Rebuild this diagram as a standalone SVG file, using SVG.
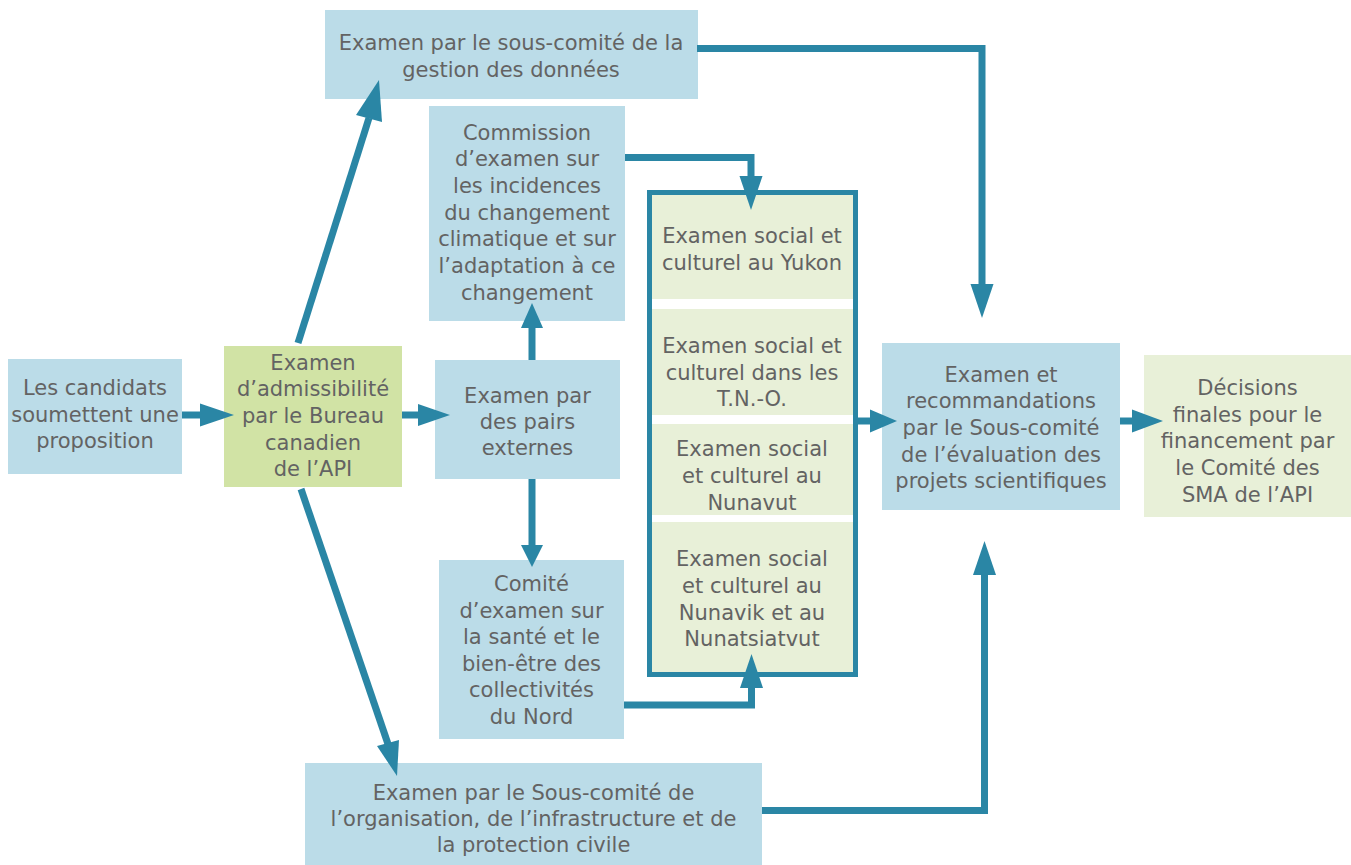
<svg xmlns="http://www.w3.org/2000/svg" width="1351" height="865" viewBox="0 0 1351 865">
<style>
.blue{fill:#BBDCE8}
.green{fill:#D1E3A5}
.pale{fill:#E8F0D8}
text{font-family:"DejaVu Sans",Verdana,sans-serif;font-size:21px;fill:#636363;text-anchor:middle}
.ln{fill:none;stroke:#2A86A5;stroke-width:7;stroke-linejoin:miter}
.hd{fill:#2A86A5}
</style>
<rect width="1351" height="865" fill="#FFFFFF"/>
<g id="candidats">
<rect class="blue" x="8" y="359" width="174" height="115"/>
<text x="95" y="395">Les candidats</text>
<text x="95" y="421.5">soumettent une</text>
<text x="95" y="448">proposition</text>
</g>
<g id="admissibilite">
<rect class="green" x="224" y="346" width="178" height="141"/>
<text x="313" y="370">Examen</text>
<text x="313" y="396">d’admissibilité</text>
<text x="313" y="423">par le Bureau</text>
<text x="313" y="450">canadien</text>
<text x="313" y="476">de l’API</text>
</g>
<g id="gestion-donnees">
<rect class="blue" x="325" y="10" width="373" height="89"/>
<text x="511" y="50">Examen par le sous-comité de la</text>
<text x="511" y="77">gestion des données</text>
</g>
<g id="commission">
<rect class="blue" x="429" y="106" width="196" height="215"/>
<text x="527" y="140">Commission</text>
<text x="527" y="166">d’examen sur</text>
<text x="527" y="193">les incidences</text>
<text x="527" y="220">du changement</text>
<text x="527" y="246">climatique et sur</text>
<text x="527" y="273">l’adaptation à ce</text>
<text x="527" y="300">changement</text>
</g>
<g id="pairs">
<rect class="blue" x="435" y="360" width="185" height="119"/>
<text x="527.5" y="403">Examen par</text>
<text x="527.5" y="429">des pairs</text>
<text x="527.5" y="455">externes</text>
</g>
<g id="comite-sante">
<rect class="blue" x="439" y="560" width="185" height="179"/>
<text x="531.5" y="591">Comité</text>
<text x="531.5" y="617.5">d’examen sur</text>
<text x="531.5" y="644">la santé et le</text>
<text x="531.5" y="670.5">bien-être des</text>
<text x="531.5" y="697">collectivités</text>
<text x="531.5" y="723.5">du Nord</text>
</g>
<g id="examens-sociaux">
<rect x="649.5" y="192.5" width="206" height="482" fill="#FFFFFF" stroke="#2A86A5" stroke-width="5"/>
<g id="yukon">
<rect class="pale" x="652" y="195" width="201" height="104"/>
<text x="752" y="243">Examen social et</text>
<text x="752" y="270">culturel au Yukon</text>
</g>
<g id="tno">
<rect class="pale" x="652" y="309" width="201" height="106"/>
<text x="752" y="353">Examen social et</text>
<text x="752" y="380">culturel dans les</text>
<text x="752" y="406">T.N.-O.</text>
</g>
<g id="nunavut">
<rect class="pale" x="652" y="424" width="201" height="91"/>
<text x="752" y="456">Examen social</text>
<text x="752" y="483">et culturel au</text>
<text x="752" y="510">Nunavut</text>
</g>
<g id="nunavik">
<rect class="pale" x="652" y="522" width="201" height="150"/>
<text x="752" y="566">Examen social</text>
<text x="752" y="593">et culturel au</text>
<text x="752" y="620">Nunavik et au</text>
<text x="752" y="646">Nunatsiatvut</text>
</g>
</g>
<g id="recommandations">
<rect class="blue" x="882" y="343" width="238" height="167"/>
<text x="1001" y="382">Examen et</text>
<text x="1001" y="408">recommandations</text>
<text x="1001" y="435">par le Sous-comité</text>
<text x="1001" y="462">de l’évaluation des</text>
<text x="1001" y="488">projets scientifiques</text>
</g>
<g id="decisions">
<rect class="pale" x="1144" y="355" width="207" height="162"/>
<text x="1247.5" y="395">Décisions</text>
<text x="1247.5" y="422">finales pour le</text>
<text x="1247.5" y="448">financement par</text>
<text x="1247.5" y="475">le Comité des</text>
<text x="1247.5" y="502">SMA de l’API</text>
</g>
<g id="organisation">
<rect class="blue" x="305" y="763" width="457" height="102"/>
<text x="533.5" y="800">Examen par le Sous-comité de</text>
<text x="533.5" y="826">l’organisation, de l’infrastructure et de</text>
<text x="533.5" y="852">la protection civile</text>
</g>
<g id="connectors">
<path class="ln" d="M182,415 H201"/>
<polygon class="hd" points="200,403.5 234,415 200,426.5"/>
<path class="ln" d="M402,415 H419"/>
<polygon class="hd" points="418,404 450,415 418,426"/>
<path class="ln" d="M532,360 V327"/>
<polygon class="hd" points="521,328 532,303 543,328"/>
<path class="ln" d="M532,479 V546"/>
<polygon class="hd" points="521,545 532,567 543,545"/>
<path class="ln" d="M625,157.5 H751 V177"/>
<polygon class="hd" points="739.5,176 751,210 762.5,176"/>
<path class="ln" d="M624,705 H751.5 V687"/>
<polygon class="hd" points="740,688 751.5,654 763,688"/>
<path class="ln" d="M298,343 L369,118"/>
<polygon class="hd" points="356,115 379,80 382,122"/>
<path class="ln" d="M301,489 L388,744"/>
<polygon class="hd" points="377,746 397,776 399,740"/>
<path class="ln" d="M697,48.5 H982 V285"/>
<polygon class="hd" points="970.5,284 982,318 993.5,284"/>
<path class="ln" d="M762,810.5 H984.5 V574"/>
<polygon class="hd" points="973,575 984.5,541 996,575"/>
<path class="ln" d="M858,421 H871"/>
<polygon class="hd" points="870,409.5 897,421 870,432.5"/>
<path class="ln" d="M1120,421 H1133"/>
<polygon class="hd" points="1132,409.5 1163,421 1132,432.5"/>
</g>
</svg>
